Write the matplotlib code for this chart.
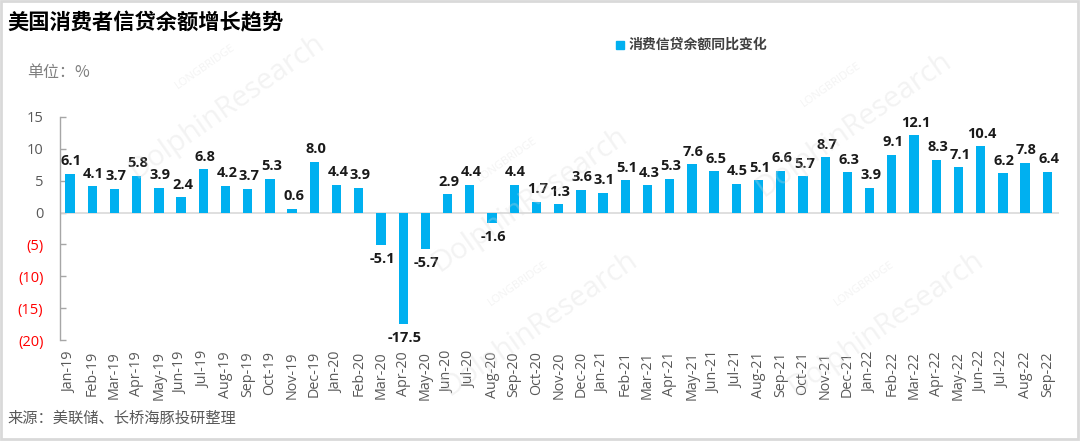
import matplotlib
matplotlib.use('Agg')
import matplotlib.pyplot as plt
from matplotlib.patches import Rectangle
import numpy as np

plt.rcParams['font.family'] = ['Open Sans', 'Noto Sans CJK SC', 'DejaVu Sans']

# data: monthly yoy change of US consumer credit, %
months = ['Jan-19', 'Feb-19', 'Mar-19', 'Apr-19', 'May-19', 'Jun-19', 'Jul-19', 'Aug-19',
          'Sep-19', 'Oct-19', 'Nov-19', 'Dec-19',
          'Jan-20', 'Feb-20', 'Mar-20', 'Apr-20', 'May-20', 'Jun-20', 'Jul-20', 'Aug-20',
          'Sep-20', 'Oct-20', 'Nov-20', 'Dec-20',
          'Jan-21', 'Feb-21', 'Mar-21', 'Apr-21', 'May-21', 'Jun-21', 'Jul-21', 'Aug-21',
          'Sep-21', 'Oct-21', 'Nov-21', 'Dec-21',
          'Jan-22', 'Feb-22', 'Mar-22', 'Apr-22', 'May-22', 'Jun-22', 'Jul-22', 'Aug-22',
          'Sep-22']
yoy = [6.1, 4.1, 3.7, 5.8, 3.9, 2.4, 6.8, 4.2, 3.7, 5.3, 0.6, 8.0,
       4.4, 3.9, -5.1, -17.5, -5.7, 2.9, 4.4, -1.6, 4.4, 1.7, 1.3, 3.6,
       3.1, 5.1, 4.3, 5.3, 7.6, 6.5, 4.5, 5.1, 6.6, 5.7, 8.7, 6.3,
       3.9, 9.1, 12.1, 8.3, 7.1, 10.4, 6.2, 7.8, 6.4]
y_ticks = [-20, -15, -10, -5, 0, 5, 10, 15]

title = '美国消费者信贷余额增长趋势'
series_name = '消费信贷余额同比变化'
unit = '单位：%'
source = '来源：美联储、长桥海豚投研整理'

bar_color = '#00B0F0'
gray = '#595959'

fig = plt.figure(figsize=(10.8, 4.44), dpi=100)
ax = fig.add_axes([0.0556, 0.2342, 0.9254, 0.5023])

x = np.arange(len(months))
ax.bar(x, yoy, width=0.42, color=bar_color, zorder=3)

# value labels
for xi, v in zip(x, yoy):
    if v >= 0:
        ax.annotate(f'{v:.1f}', (xi, v), xytext=(1, 4), textcoords='offset points',
                    ha='center', va='bottom', fontsize=10.5, fontweight='bold', color='#1a1a1a')
    else:
        ax.annotate(f'{v:.1f}', (xi, v), xytext=(1, -5), textcoords='offset points',
                    ha='center', va='top', fontsize=10.5, fontweight='bold', color='#1a1a1a')

ax.axhline(0, color='#D9D9D9', lw=1.2, zorder=2)

ax.set_xlim(-0.45, len(months) - 0.45)
ax.set_ylim(-20, 15)
ax.set_yticks(y_ticks)
ax.set_yticklabels([f'({abs(t)})' if t < 0 else f'{t}' for t in y_ticks])
for t, lab in zip(y_ticks, ax.get_yticklabels()):
    lab.set_color('red' if t < 0 else gray)
ax.tick_params(axis='y', direction='in', length=4, width=1, color='#A6A6A6',
               pad=12, labelsize=10.5)

ax.set_xticks(x)
ax.set_xticklabels(months, rotation=90, fontsize=10.3, color=gray)
ax.tick_params(axis='x', length=0, pad=8)

for s in ['top', 'right', 'bottom']:
    ax.spines[s].set_visible(False)
ax.spines['left'].set_color('#A6A6A6')
ax.spines['left'].set_linewidth(1)

# texts
fig.text(0.007, 0.948, title, fontsize=15.3, fontweight='bold', color='black',
         family=['Noto Sans CJK SC'], va='center', ha='left')
fig.text(0.025, 0.836, unit, fontsize=11.5, color='#7F7F7F',
         family=['Noto Sans CJK SC'], va='center', ha='left')
fig.text(0.007, 0.058, source, fontsize=11, color=gray,
         family=['Noto Sans CJK SC'], va='center', ha='left')

# legend
fig.patches.append(Rectangle((0.5705, 0.890), 0.0075, 0.018, transform=fig.transFigure,
                             color=bar_color, figure=fig))
fig.text(0.582, 0.899, series_name, fontsize=10, fontweight='bold', color='#404040',
         family=['Noto Sans CJK SC'], va='center', ha='left')

# faint watermarks
wm = dict(color='#d8d8d8', alpha=0.3, rotation=35, ha='center', va='center', zorder=0)
for (wx, wy) in [(0.21, 0.76), (0.49, 0.55), (0.79, 0.72), (0.50, 0.27), (0.82, 0.27)]:
    fig.text(wx, wy, 'DolphinResearch', fontsize=21, **wm)
    fig.text(wx - 0.02, wy + 0.09, 'LONGBRIDGE', fontsize=8, **wm)

# frame
fig.patches.append(Rectangle((0.001, 0.012), 0.997, 0.985, transform=fig.transFigure,
                             fill=False, edgecolor='#D9D9D9', lw=2, figure=fig))

fig.savefig('out.png', dpi=100, facecolor='white')
